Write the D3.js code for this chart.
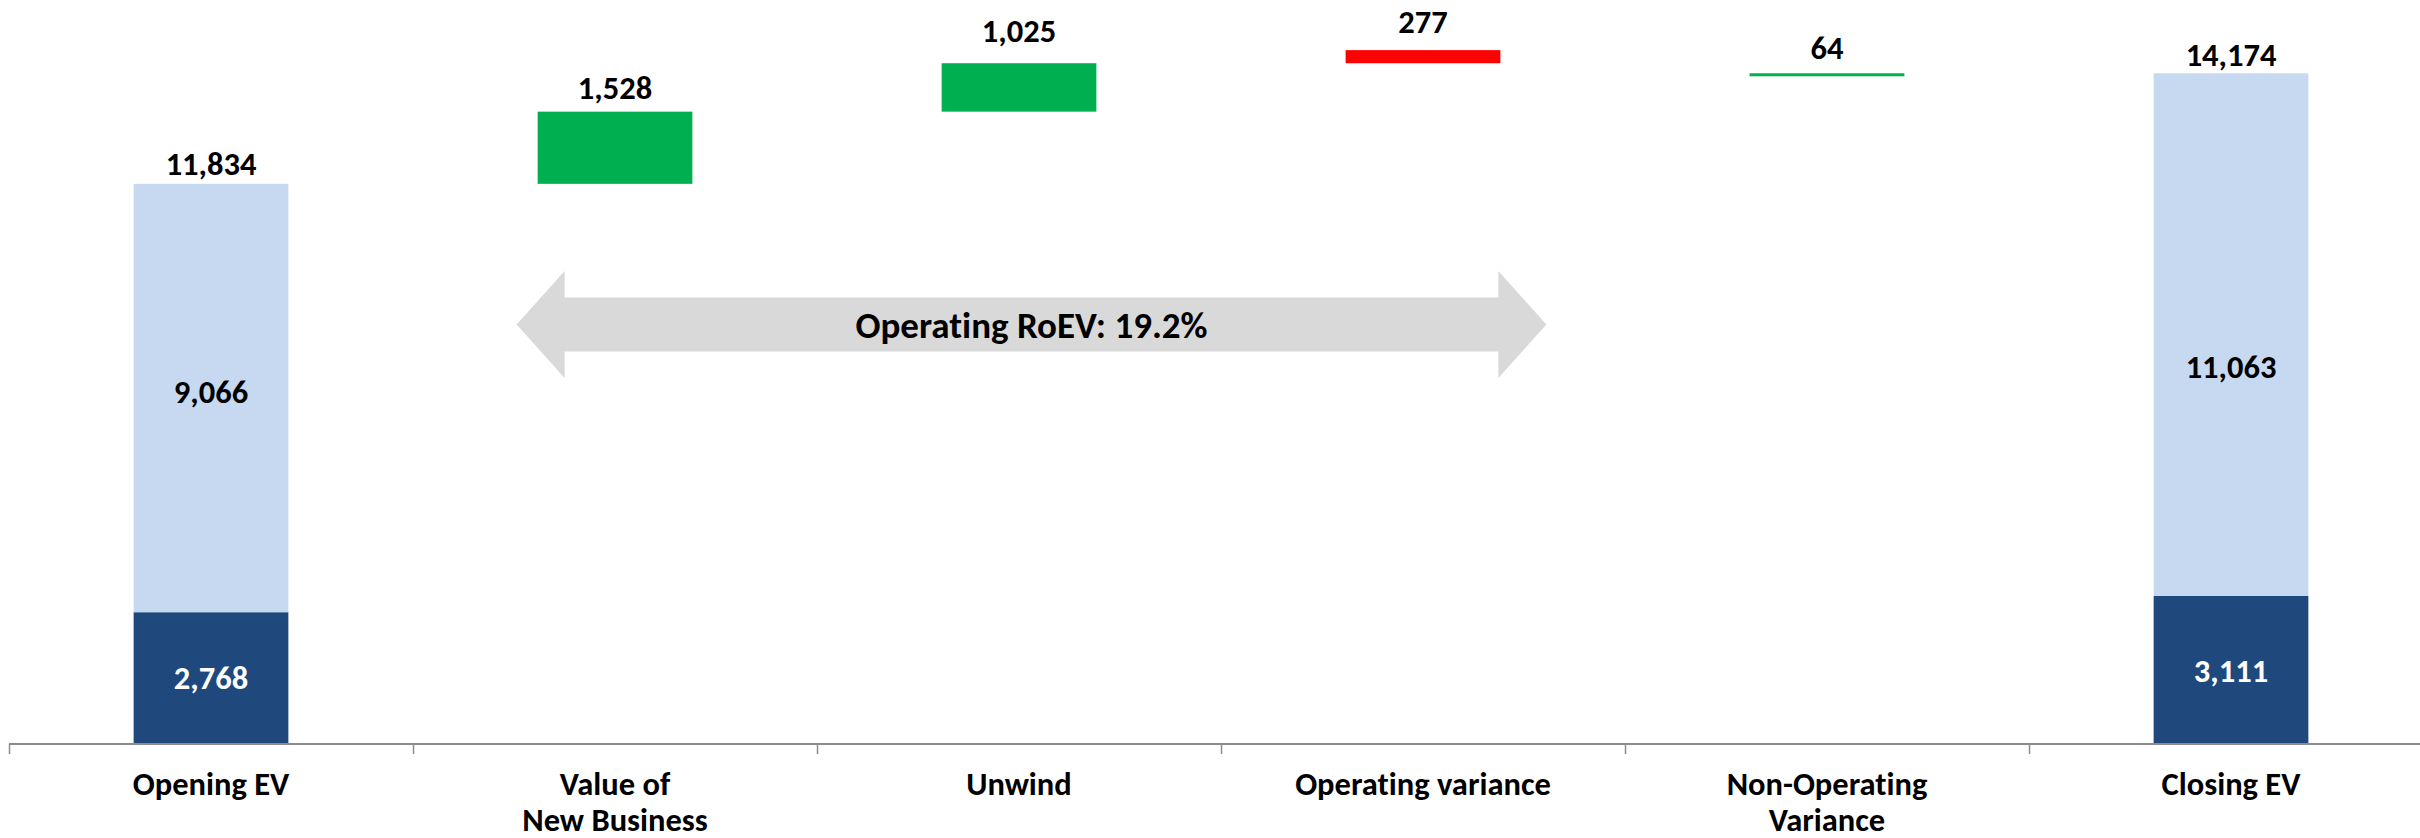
<!DOCTYPE html>
<html>
<head>
<meta charset="utf-8">
<script src="https://cdn.jsdelivr.net/npm/d3@7"></script>
<style>
  html, body { margin: 0; padding: 0; background: #ffffff; }
  svg { display: block; }
  text { font-family: Carlito, Calibri, Lato, "Liberation Sans Narrow", sans-serif; font-weight: bold; font-variant-ligatures: none; }
</style>
</head>
<body>
<svg id="chart" width="2420" height="838"></svg>
<script>
// Embedded value walk (in millions)
const categories = ["Opening EV", "Value of New Business", "Unwind", "Operating variance", "Non-Operating Variance", "Closing EV"];
const categoryLines = [["Opening EV"], ["Value of", "New Business"], ["Unwind"], ["Operating variance"], ["Non-Operating", "Variance"], ["Closing EV"]];
const openingParts = [2768, 9066];   // net worth, value of in-force
const closingParts = [3111, 11063];  // net worth, value of in-force
const movements = [1528, 1025, -277, 64];
const arrowLabel = "Operating RoEV: 19.2%";

const colors = { dark: "#1f497d", light: "#c6d9f1", up: "#00b050", down: "#ff0000", arrow: "#d9d9d9", axis: "#8c8c8c" };
const fmt = d3.format(",");
const FS = 32.5;

const svg = d3.select("#chart");
const W = 2420;

const x = d3.scaleBand().domain(categories).range([9, 2433]).paddingInner(0.617).paddingOuter(0.3085);
const y = d3.scaleLinear().domain([0, 15000]).range([743, 743 - 15000 * 0.04725]);
const bw = x.bandwidth();
const step = x.step();

// Stacked totals: net worth (dark) under value of in-force (light)
const openingTotal = d3.sum(openingParts);
const closingTotal = d3.sum(closingParts);
const segs = [
  { cat: categories[0], y0: 0, y1: openingParts[0], fill: colors.dark, label: fmt(openingParts[0]), labelColor: "#fff" },
  { cat: categories[0], y0: openingParts[0], y1: openingTotal, fill: colors.light, label: fmt(openingParts[1]), labelColor: "#000" }
];
const tops = [{ cat: categories[0], top: openingTotal, label: fmt(openingTotal) }];

// Movement steps: each one sits on the running level; decreases are shown as a red block of the same size
let level = openingTotal;
movements.forEach((v, i) => {
  const cat = categories[i + 1];
  const lo = level, hi = level + Math.abs(v);
  segs.push({ cat, y0: lo, y1: hi, fill: v >= 0 ? colors.up : colors.down });
  tops.push({ cat, top: hi, label: fmt(Math.abs(v)) });
  level += v;
});

segs.push({ cat: categories[5], y0: 0, y1: closingParts[0], fill: colors.dark, label: fmt(closingParts[0]), labelColor: "#fff" });
segs.push({ cat: categories[5], y0: closingParts[0], y1: closingTotal, fill: colors.light, label: fmt(closingParts[1]), labelColor: "#000" });
tops.push({ cat: categories[5], top: closingTotal, label: fmt(closingTotal) });

// Double-headed arrow spanning the operating steps
const ax0 = x(categories[1]) - 21;
const ax1 = x(categories[3]) + bw + 46;
const ay = 324.5, head = 48, shaftH = 27, headH = 53.5;
svg.append("path")
  .attr("d", d3.line()([
    [ax0, ay], [ax0 + head, ay - headH], [ax0 + head, ay - shaftH], [ax1 - head, ay - shaftH], [ax1 - head, ay - headH],
    [ax1, ay], [ax1 - head, ay + headH], [ax1 - head, ay + shaftH], [ax0 + head, ay + shaftH], [ax0 + head, ay + headH]
  ]) + "Z")
  .attr("fill", colors.arrow);
svg.append("text")
  .attr("x", (ax0 + ax1) / 2).attr("y", ay + 13)
  .attr("text-anchor", "middle").attr("font-size", 37).attr("fill", "#000")
  .text(arrowLabel);

// Bars
svg.append("g").selectAll("rect").data(segs).join("rect")
  .attr("x", d => x(d.cat))
  .attr("width", bw)
  .attr("y", d => y(d.y1))
  .attr("height", d => y(d.y0) - y(d.y1))
  .attr("fill", d => d.fill);

// Labels inside the stacked total bars
const innerNudge = [1, -6, 2, 33];
svg.append("g").selectAll("text").data(segs.filter(d => d.label)).join("text")
  .attr("x", d => x(d.cat) + bw / 2)
  .attr("y", (d, i) => (y(d.y0) + y(d.y1)) / 2 + innerNudge[i])
  .attr("dy", "0.33em")
  .attr("text-anchor", "middle").attr("font-size", FS)
  .attr("fill", d => d.labelColor)
  .text(d => d.label);

// Value labels above each bar
const lift = [9, 12.7, 21.3, 17, 14, 7.3];
svg.append("g").selectAll("text").data(tops).join("text")
  .attr("x", d => x(d.cat) + bw / 2)
  .attr("y", (d, i) => y(d.top) - lift[i])
  .attr("text-anchor", "middle").attr("font-size", FS).attr("fill", "#000")
  .text(d => d.label);

// Category axis with tick marks between the categories
const axisG = svg.append("g").attr("transform", `translate(0,${y(0) + 1})`);
axisG.append("line").attr("x1", x.range()[0]).attr("x2", W)
  .attr("stroke", colors.axis).attr("stroke-width", 2);
axisG.selectAll(".tick").data(categories).join("line")
  .attr("class", "tick")
  .attr("x1", (d, i) => x.range()[0] + i * step + 0.5)
  .attr("x2", (d, i) => x.range()[0] + i * step + 0.5)
  .attr("y1", 0).attr("y2", 10)
  .attr("stroke", colors.axis).attr("stroke-width", 1.5);
const catText = axisG.selectAll(".cat").data(categories).join("text")
  .attr("class", "cat")
  .attr("x", d => x(d) + bw / 2)
  .attr("y", 51)
  .attr("text-anchor", "middle").attr("font-size", FS).attr("fill", "#000");
catText.selectAll("tspan").data((d, i) => categoryLines[i]).join("tspan")
  .attr("x", function () { return d3.select(this.parentNode).attr("x"); })
  .attr("dy", (d, i) => i === 0 ? 0 : 36)
  .text(d => d);
</script>
</body>
</html>
